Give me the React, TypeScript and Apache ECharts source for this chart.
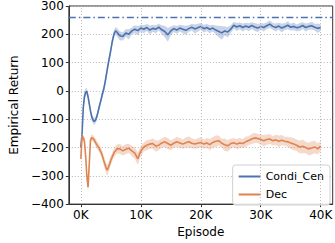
import React, { useEffect, useRef } from 'react';
import * as echarts from 'echarts';

const episodes = [0,200,400,600,800,1000,1200,1400,1600,1800,2000,2200,2400,2600,2800,3000,3200,3400,3600,3800,4000,4200,4400,4600,4800,5000,5200,5400,5600,5800,6000,6500,7000,7500,8000,8500,9000,9500,10000,10500,11000,11500,12000,12500,13000,13500,14000,14500,15000,15500,16000,16500,17000,17500,18000,18500,19000,19500,20000,20500,21000,21500,22000,22500,23000,23500,24000,24500,25000,25500,26000,26500,27000,27500,28000,28500,29000,29500,30000,30500,31000,31500,32000,32500,33000,33500,34000,34500,35000,35500,36000,36500,37000,37500,38000,38500,39000,39500,40000];

const condiMean = [-200,-150,-60,-20,-5,-2,-20,-45,-70,-90,-102,-108,-105,-95,-80,-62,-45,-28,-10,5,25,50,75,100,122,145,170,190,205,212,208,
195,192,205,200,212,218,213,222,218,224,
215,221,218,225,216,210,198,212,220,215,
222,218,214,220,225,219,223,228,220,224,
218,222,215,210,205,212,208,218,232,226,
230,224,229,225,231,226,222,228,224,230,
236,228,224,229,222,227,232,225,228,223,
226,231,224,228,230,225,221,224];

const condiSpread = [8,10,14,14,14,12,12,12,12,12,12,12,12,12,12,12,12,12,14,14,14,14,14,14,14,14,14,14,14,14,14,
16,14,14,18,12,14,16,12,14,12,
16,12,14,12,16,20,24,16,12,14,
12,14,16,12,12,16,14,12,14,12,
14,12,16,20,24,16,18,14,12,14,
12,14,12,14,12,14,14,12,14,12,
14,12,14,12,16,12,14,12,14,12,
14,12,14,12,14,12,16,12];

const decMean = [-240,-160,-165,-178,-230,-300,-340,-260,-175,-165,-168,-172,-180,-188,-195,-200,-210,-218,-230,-245,-258,-272,-280,-270,-258,-245,-235,-225,-216,-212,-205,
-205,-212,-206,-203,-212,-220,-240,-212,-198,-192,
-188,-186,-195,-192,-184,-180,-186,-192,-185,-180,
-184,-188,-183,-180,-185,-188,-185,-182,-188,-184,
-190,-182,-178,-176,-185,-190,-194,-186,-183,-188,
-184,-186,-180,-175,-170,-166,-168,-172,-176,-172,
-170,-176,-173,-178,-174,-178,-180,-184,-188,-192,
-198,-196,-200,-205,-202,-198,-205,-195];

const decSpread = [8,10,10,12,14,16,18,16,12,12,12,12,14,14,14,14,14,16,16,16,18,18,20,18,18,16,16,16,16,16,16,
18,16,18,16,18,20,22,18,16,18,
16,18,20,18,16,18,20,18,16,18,
18,16,18,20,18,16,18,18,16,18,
20,18,20,18,16,22,20,18,16,18,
18,16,18,16,18,18,16,18,20,18,
18,16,18,20,18,16,18,20,22,20,
22,24,20,22,24,22,20,18];

const xTicks = [0, 10000, 20000, 30000, 40000];
const optimumLevel = 260;
const seriesNames = ['Condi_Cen', 'Dec'];

const BLUE = '#4c72b0';
const ORANGE = '#dd8452';
const FONT = 'DejaVu Sans';
const GRID = '#b8b8b8';

function bandSeries(mean: number[], spread: number[], color: string, z: number) {
  return {
    type: 'custom',
    silent: true,
    clip: true,
    z,
    data: [[episodes[0], mean[0]]],
    encode: { x: 0, y: 1 },
    renderItem: (_params: any, api: any) => {
      const up = episodes.map((e, i) => api.coord([e, mean[i] + spread[i]]));
      const lo = episodes.map((e, i) => api.coord([e, mean[i] - spread[i]])).reverse();
      return { type: 'polygon', shape: { points: up.concat(lo) }, style: { fill: color } };
    },
  };
}

export default function App() {
  const ref = useRef<HTMLDivElement>(null);
  useEffect(() => {
    if (!ref.current) return;
    const chart = echarts.init(ref.current, null, { renderer: 'svg' });
    const fmtY = (v: number) => (v < 0 ? '\u2212' + Math.abs(v) : String(v));
    chart.setOption({
      animation: false,
      textStyle: { fontFamily: FONT },
      grid: { left: 63, right: -3, top: 5, bottom: 35, show: true, borderColor: '#333', borderWidth: 1, backgroundColor: 'transparent' },
      legend: {
        data: seriesNames,
        orient: 'vertical',
        right: 5,
        top: 165,
        icon: 'rect',
        itemWidth: 22,
        itemHeight: 2,
        itemGap: 7,
        padding: [6, 6, 5, 6],
        backgroundColor: 'rgba(255,255,255,0.85)',
        borderColor: '#d0d0d0',
        borderWidth: 1,
        borderRadius: 3,
        textStyle: { fontFamily: FONT, fontSize: 11, color: '#000' },
      },
      xAxis: {
        type: 'value',
        min: -2000,
        max: 42000,
        name: 'Episode',
        nameLocation: 'middle',
        nameGap: 19,
        nameTextStyle: { fontFamily: FONT, fontSize: 12, color: '#000' },
        axisLine: { show: true, onZero: false, lineStyle: { color: '#333', width: 1 } },
        axisTick: { show: true, customValues: xTicks, length: 3, lineStyle: { color: '#333' } },
        axisLabel: { customValues: xTicks, formatter: (v: number) => v / 1000 + 'K', fontFamily: FONT, fontSize: 12, color: '#000', margin: 5 },
        splitLine: { show: false },
      },
      yAxis: {
        type: 'value',
        min: -400,
        max: 300,
        interval: 100,
        name: 'Empirical Return',
        nameLocation: 'middle',
        nameGap: 39,
        nameTextStyle: { fontFamily: FONT, fontSize: 12, color: '#000' },
        axisLine: { show: true, onZero: false, lineStyle: { color: '#333', width: 1 } },
        axisTick: { show: true, length: 3, lineStyle: { color: '#333' } },
        axisLabel: { formatter: fmtY, fontFamily: FONT, fontSize: 12, color: '#000', margin: 5 },
        splitLine: { show: true, lineStyle: { color: GRID, type: [1, 2], width: 1 } },
      },
      series: [
        {
          type: 'line',
          name: 'xgrid',
          data: [[0, null]],
          symbol: 'none',
          silent: true,
          z: 0,
          lineStyle: { opacity: 0 },
          markLine: {
            silent: true,
            symbol: 'none',
            label: { show: false },
            lineStyle: { color: GRID, type: [1, 2], width: 1 },
            data: xTicks.map((t) => ({ xAxis: t })),
          },
        },
        bandSeries(condiMean, condiSpread, 'rgba(76,114,176,0.3)', 2),
        {
          type: 'line',
          name: 'Condi_Cen',
          data: episodes.map((e, i) => [e, condiMean[i]]),
          showSymbol: false,
          symbol: 'none',
          z: 3,
          color: BLUE,
          lineStyle: { color: BLUE, width: 1.6 },
          markLine: {
            silent: true,
            symbol: 'none',
            label: { show: false },
            lineStyle: { color: BLUE, type: [7, 3, 1.5, 3], width: 1.3, opacity: 1 },
            emphasis: { disabled: true },
            data: [{ yAxis: optimumLevel, lineStyle: { color: BLUE } }],
          },
        },
        bandSeries(decMean, decSpread, 'rgba(221,132,82,0.3)', 4),
        {
          type: 'line',
          name: 'Dec',
          data: episodes.map((e, i) => [e, decMean[i]]),
          showSymbol: false,
          symbol: 'none',
          z: 5,
          color: ORANGE,
          lineStyle: { color: ORANGE, width: 1.6 },
        },
      ],
    });
    return () => chart.dispose();
  }, []);
  return <div ref={ref} style={{ width: 335, height: 243, position: 'absolute', left: 0, top: 0 }} />;
}
